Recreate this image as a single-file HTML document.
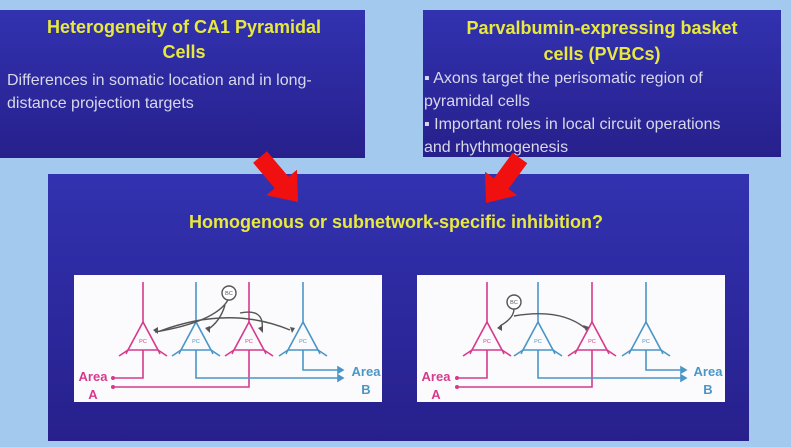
<!DOCTYPE html>
<html><head><meta charset="utf-8"><style>
html,body{margin:0;padding:0;background:#a3c9ee;}
svg{display:block}
</style></head><body>
<svg width="791" height="447" viewBox="0 0 791 447" xmlns="http://www.w3.org/2000/svg" font-family="Liberation Sans, sans-serif">
<defs>
<linearGradient id="g" x1="0" y1="0" x2="0" y2="1">
<stop offset="0" stop-color="#3232b0"/><stop offset="1" stop-color="#27208c"/>
</linearGradient>
<g id="pc">
<polygon points="0,-28 -15,0 15,0" fill="none" stroke-width="1.6"/>
<line x1="0" y1="-28" x2="0" y2="-68" stroke-width="1.6"/>
<line x1="-15" y1="0" x2="-24" y2="6" stroke-width="1.6"/>
<line x1="15" y1="0" x2="24" y2="6" stroke-width="1.6"/>
<line x1="-15" y1="0" x2="-17" y2="4" stroke-width="1.4"/>
<line x1="15" y1="0" x2="17" y2="4" stroke-width="1.4"/>
</g>
</defs>
<rect width="791" height="447" fill="#a3c9ee"/>
<rect x="0" y="10" width="365" height="148" fill="url(#g)"/>
<rect x="423" y="10" width="358" height="147" fill="url(#g)"/>
<rect x="48" y="174" width="701" height="267" fill="url(#g)"/>

<g fill="#e8e83e" font-weight="bold" font-size="18" text-anchor="middle">
<text x="184" y="33">Heterogeneity of CA1 Pyramidal</text>
<text x="184" y="58">Cells</text>
<text x="602" y="34">Parvalbumin-expressing basket</text>
<text x="602" y="60">cells (PVBCs)</text>
<text x="396" y="228">Homogenous or subnetwork-specific inhibition?</text>
</g>
<g fill="#d8d8ea" font-size="16">
<text x="7" y="85">Differences in somatic location and in long-</text>
<text x="7" y="108">distance projection targets</text>
<text x="424" y="83">▪ Axons target the perisomatic region of</text>
<text x="424" y="106">pyramidal cells</text>
<text x="424" y="129">▪ Important roles in local circuit operations</text>
<text x="424" y="152">and rhythmogenesis</text>
</g>

<polygon fill="#f01010" points="266.9,151.2 288.5,176.7 297,169.7 298,202 266.2,195.3 274.7,188.3 253.1,162.8"/>
<polygon fill="#f01010" points="527.3,163.3 508.5,188.9 517.4,195.4 486,203 485,171.8 493.9,178.3 512.7,152.7"/>

<!-- panels -->
<rect x="74" y="275" width="308" height="127" fill="#fbfbfd"/>
<rect x="417" y="275" width="308" height="127" fill="#fbfbfd"/>

<!-- left panel -->
<g>
<g stroke="#d63a8e" fill="none" stroke-width="1.6">
<use href="#pc" x="143" y="350"/><use href="#pc" x="249" y="350"/>
<polyline points="143,350 143,378 114,378"/>
<polyline points="249,350 249,387 114,387"/>
</g>
<g stroke="#4a96c8" fill="none" stroke-width="1.6">
<use href="#pc" x="196" y="350"/><use href="#pc" x="303" y="350"/>
<polyline points="196,350 196,378 338,378"/>
<polyline points="303,350 303,370 338,370"/>
<polygon points="338,367 343,370 338,373" fill="#4a96c8"/>
<polygon points="338,375 343,378 338,381" fill="#4a96c8"/>
</g>
<circle cx="113" cy="378" r="2" fill="#d63a8e"/><circle cx="113" cy="387" r="2" fill="#d63a8e"/>
<g stroke="#555" fill="none" stroke-width="1.4">
<circle cx="229" cy="293" r="7" fill="#fff"/>
<path d="M228,300 Q215,322 155,332"/>
<path d="M225,305 Q220,322 207,330"/>
<path d="M160,331 Q230,305 290,330"/>
<path d="M240,313 Q265,308 262,330"/>
</g>
<g fill="#555"><polygon points="153,330 158,327 158,334"/><polygon points="205,328 210,326 210,333"/><polygon points="258,328 263,326 263,333"/><polygon points="290,327 295,328 292,333"/></g>
<g font-size="5.5" text-anchor="middle"><text x="143" y="343" fill="#d63a8e">PC</text><text x="196" y="343" fill="#4a96c8">PC</text><text x="249" y="343" fill="#d63a8e">PC</text><text x="303" y="343" fill="#4a96c8">PC</text><text x="229" y="295" fill="#555">BC</text></g>
<g font-size="13" font-weight="bold" text-anchor="middle"><text x="93" y="381" fill="#d63a8e">Area</text><text x="93" y="399" fill="#d63a8e">A</text><text x="366" y="376" fill="#4a96c8">Area</text><text x="366" y="394" fill="#4a96c8">B</text></g>
</g>

<!-- right panel -->
<g>
<g stroke="#d63a8e" fill="none" stroke-width="1.6">
<use href="#pc" x="487" y="350"/><use href="#pc" x="592" y="350"/>
<polyline points="487,350 487,378 458,378"/>
<polyline points="592,350 592,387 458,387"/>
</g>
<g stroke="#4a96c8" fill="none" stroke-width="1.6">
<use href="#pc" x="538" y="350"/><use href="#pc" x="646" y="350"/>
<polyline points="538,350 538,378 681,378"/>
<polyline points="646,350 646,370 681,370"/>
<polygon points="681,367 686,370 681,373" fill="#4a96c8"/>
<polygon points="681,375 686,378 681,381" fill="#4a96c8"/>
</g>
<circle cx="457" cy="378" r="2" fill="#d63a8e"/><circle cx="457" cy="387" r="2" fill="#d63a8e"/>
<g stroke="#555" fill="none" stroke-width="1.4">
<circle cx="514" cy="302" r="7" fill="#fff"/>
<path d="M514,309 Q514,318 500,326"/>
<path d="M514,316 Q560,308 585,328"/>
</g>
<g fill="#555"><polygon points="497,328 502,324 502,331"/><polygon points="586,331 583,325 589,327"/></g>
<g font-size="5.5" text-anchor="middle"><text x="487" y="343" fill="#d63a8e">PC</text><text x="538" y="343" fill="#4a96c8">PC</text><text x="592" y="343" fill="#d63a8e">PC</text><text x="646" y="343" fill="#4a96c8">PC</text><text x="514" y="304" fill="#555">BC</text></g>
<g font-size="13" font-weight="bold" text-anchor="middle"><text x="436" y="381" fill="#d63a8e">Area</text><text x="436" y="399" fill="#d63a8e">A</text><text x="708" y="376" fill="#4a96c8">Area</text><text x="708" y="394" fill="#4a96c8">B</text></g>
</g>
</svg>
</body></html>
